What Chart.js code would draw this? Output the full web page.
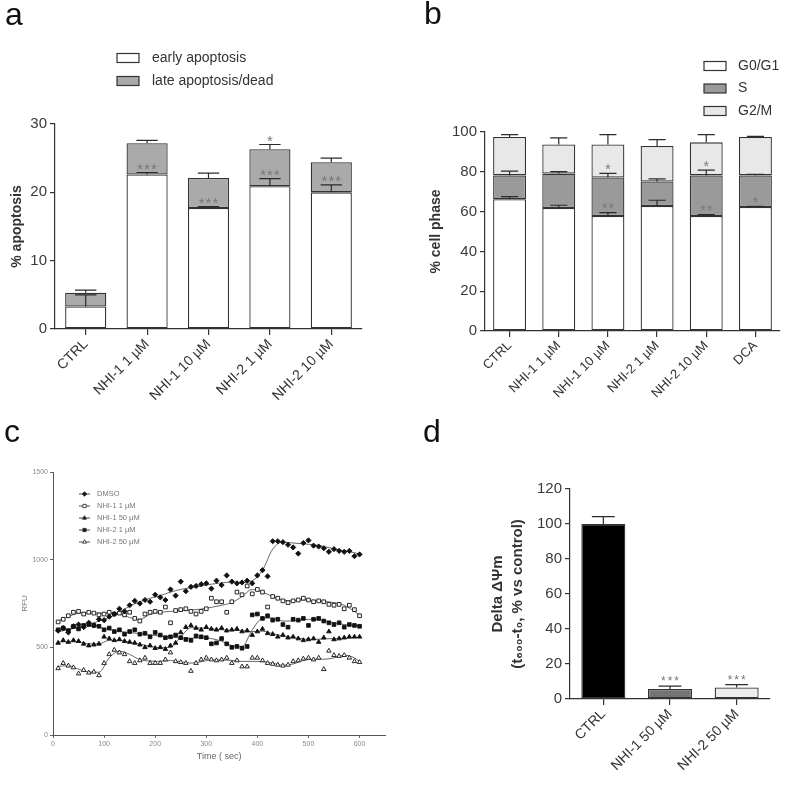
<!DOCTYPE html>
<html>
<head>
<meta charset="utf-8">
<script src="https://cdn.jsdelivr.net/npm/chart.js@4.4.0/dist/chart.umd.min.js"></script>
<style>
html, body { margin: 0; padding: 0; background: #fff; }
#wrap { position: relative; width: 787px; height: 787px; overflow: hidden; background: #fff; }
#wrap canvas { position: absolute; }
.tag { position: absolute; font: 32px "Liberation Sans", Arial, sans-serif; color: #111; line-height: 1; }
</style>
</head>
<body>
<div id="wrap">
  <canvas id="ca" style="left:0;top:0" width="390" height="420"></canvas>
  <canvas id="cb" style="left:390px;top:0" width="397" height="420"></canvas>
  <canvas id="cc" style="left:0;top:420px" width="390" height="367"></canvas>
  <canvas id="cd" style="left:390px;top:420px" width="397" height="367"></canvas>
  <div class="tag" style="left:5px;top:-2px">a</div>
  <div class="tag" style="left:424px;top:-3px">b</div>
  <div class="tag" style="left:4px;top:415px">c</div>
  <div class="tag" style="left:423px;top:415px">d</div>
</div>
<script>
"use strict";

var FONT = '"Liberation Sans", Arial, sans-serif';

// ---- panel a : apoptosis ----
var aLabels = [ "CTRL", "NHI-1 1 µM", "NHI-1 10 µM", "NHI-2 1 µM", "NHI-2 10 µM" ];
var aEarly = [ 3.3, 22.6, 17.7, 20.9, 20.0 ];
var aLate = [ 2.0, 4.6, 4.4, 5.4, 4.4 ];
var aEarlyErr = [ 1.7, 0.3, 0.2, 1.1, 1.1 ];
var aLateErr = [ 0.4, 0.4, 0.7, 0.7, 0.6 ];
var aStarsLate = [ "", "***", "***", "***", "***" ];
var aStarsTop = [ "", "", "", "*", "" ];
var aTicks = [ 0, 10, 20, 30 ];

// ---- panel b : cell cycle ----
var bLabels = [ "CTRL", "NHI-1 1 µM", "NHI-1 10 µM", "NHI-2 1 µM", "NHI-2 10 µM", "DCA" ];
var bG0 = [ 66.2, 61.8, 57.8, 62.8, 57.8, 62.3 ];
var bS = [ 12.0, 17.3, 19.3, 12.3, 20.4, 15.9 ];
var bG2 = [ 19.3, 14.6, 16.6, 17.9, 16.6, 19.3 ];
var bG0Err = [ 1.3, 1.4, 1.7, 2.9, 0.7, 0.3 ];
var bSErr = [ 2.1, 1.0, 2.1, 1.3, 2.6, 0.5 ];
var bG2Err = [ 1.2, 3.3, 5.0, 3.2, 3.9, 0.3 ];
var bStarsS = [ "", "", "**", "", "**", "*" ];
var bStarsG2 = [ "", "", "*", "", "*", "" ];
var bTicks = [ 0, 20, 40, 60, 80, 100 ];

// ---- panel c : RFU time course ----
var cTime = [ 10, 20, 30, 40, 50, 60, 70, 80, 90, 100,
              110, 120, 130, 140, 150, 160, 170, 180, 190, 200,
              210, 220, 230, 240, 250, 260, 270, 280, 290, 300,
              310, 320, 330, 340, 350, 360, 370, 380, 390, 400,
              410, 420, 430, 440, 450, 460, 470, 480, 490, 500,
              510, 520, 530, 540, 550, 560, 570, 580, 590, 600 ];
var cDmso = [ 595, 610, 585, 620, 630, 615, 640, 625, 660, 655,
              675, 690, 720, 705, 740, 765, 750, 770, 760, 800,
              785, 770, 830, 795, 875, 820, 845, 850, 860, 865,
              835, 880, 855, 910, 875, 865, 870, 880, 865, 910,
              940, 905, 1105, 1105, 1100, 1085, 1070, 1035, 1095, 1110,
              1080, 1075, 1065, 1045, 1060, 1050, 1045, 1050, 1020, 1030 ];
var cNhi1Low = [ 645, 660, 680, 700, 705, 690, 700, 695, 685, 690,
                 700, 690, 695, 685, 700, 665, 650, 690, 700, 705,
                 700, 730, 640, 710, 715, 720, 705, 690, 705, 720,
                 780, 760, 760, 700, 760, 815, 800, 850, 805, 830,
                 815, 730, 790, 780, 765, 755, 765, 770, 780, 770,
                 760, 765, 760, 745, 740, 745, 720, 740, 715, 680 ];
var cNhi1High = [ 525, 540, 530, 540, 535, 520, 510, 515, 520, 560,
                  550, 540, 545, 535, 530, 525, 515, 500, 510, 495,
                  500, 490, 510, 525, 585, 615, 625, 610, 600, 615,
                  605, 600, 610, 595, 600, 605, 590, 595, 570, 590,
                  605, 580, 575, 560, 570, 555, 560, 550, 540, 545,
                  550, 530, 555, 590, 545, 550, 555, 560, 560, 560 ];
var cNhi2Low = [ 600, 610, 595, 620, 605, 625, 630, 625, 620, 600,
                 610, 590, 600, 575, 590, 600, 575, 580, 560, 585,
                 570, 555, 560, 570, 555, 545, 540, 565, 560, 555,
                 520, 525, 550, 520, 500, 505, 495, 505, 685, 690,
                 665, 680, 655, 660, 630, 615, 660, 655, 665, 625,
                 660, 665, 650, 640, 630, 640, 615, 630, 625, 620 ];
var cNhi2High = [ 380, 410, 395, 385, 350, 370, 355, 360, 340, 410,
                  460, 485, 470, 460, 420, 410, 425, 440, 410, 410,
                  410, 430, 470, 420, 415, 410, 365, 410, 430, 440,
                  430, 425, 430, 440, 410, 425, 390, 390, 440, 440,
                  425, 410, 405, 400, 395, 400, 420, 425, 435, 440,
                  430, 440, 375, 480, 455, 450, 455, 440, 420, 415 ];
// smoothed curves, read at 20 s knots
var cTrendTime = [ 10, 30, 50, 70, 90, 110, 130, 150, 170, 190, 210, 230, 250, 270, 290,
                   310, 330, 350, 370, 390, 410, 430, 450, 470, 490, 510, 530, 550, 570, 590, 600 ];
var cDmsoTrend = [ 590, 600, 615, 630, 650, 670, 700, 735, 760, 780, 795, 815, 830, 840, 850,
                   860, 868, 872, 870, 880, 940, 1060, 1100, 1095, 1090, 1085, 1075, 1062, 1050, 1040, 1032 ];
var cNhi1LowTrend = [ 650, 675, 695, 698, 695, 697, 690, 670, 660, 688, 700, 705, 710, 712, 718,
                      728, 740, 755, 790, 830, 815, 790, 770, 765, 770, 768, 762, 755, 740, 705, 685 ];
var cNhi1HighTrend = [ 530, 533, 532, 520, 520, 540, 540, 530, 518, 505, 498, 500, 560, 612, 610,
                       605, 600, 598, 595, 590, 592, 578, 565, 555, 548, 545, 548, 550, 552, 556, 558 ];
var cNhi2LowTrend = [ 600, 605, 615, 625, 615, 600, 590, 585, 578, 570, 565, 558, 553, 552, 555,
                      550, 535, 510, 505, 600, 665, 668, 650, 650, 658, 660, 652, 640, 630, 625, 622 ];
var cNhi2HighTrend = [ 392, 395, 375, 360, 358, 440, 478, 460, 430, 422, 420, 425, 418, 410, 418,
                       428, 428, 425, 420, 420, 418, 410, 398, 405, 425, 432, 432, 440, 455, 440, 420 ];
var cXTicks = [ 0, 100, 200, 300, 400, 500, 600 ];
var cYTicks = [ 0, 500, 1000, 1500 ];

// ---- panel d : delta potential ----
var dLabels = [ "CTRL", "NHI-1 50 µM", "NHI-2 50 µM" ];
var dValues = [ 100, 5.7, 6.6 ];
var dErr = [ 4.2, 1.7, 1.6 ];
var dStars = [ "", "***", "***" ];
var dTicks = [ 0, 20, 40, 60, 80, 100, 120 ];

Chart.defaults.font.family = FONT;
Chart.defaults.color = "#333";

function fixTicks(list) {
    return function (scale) {
        scale.ticks = list.map(function (v) { return { value: v }; });
    };
}

function plain(v) { return String(v); }

function stackTop(chart, ds, j) {
    var top = 0;
    for (var k = 0; k <= ds; k++) top += chart.data.datasets[k].data[j];
    return top;
}

// error bars, significance stars and box legend for the bar panels
function barExtras(errs, stars, legend) {
    return {
        id: "barExtras",
        afterDatasetsDraw: function (chart) {
            var ctx = chart.ctx, ys = chart.scales.y;
            ctx.save();
            ctx.strokeStyle = "#2b2b2b";
            ctx.lineWidth = 1.2;
            errs.forEach(function (err, i) {
                chart.getDatasetMeta(i).data.forEach(function (bar, j) {
                    var top = stackTop(chart, i, j);
                    var y0 = ys.getPixelForValue(top);
                    var y1 = ys.getPixelForValue(top + err[j]);
                    var h = bar.width * 0.26;
                    ctx.beginPath();
                    ctx.moveTo(bar.x, y0);
                    ctx.lineTo(bar.x, y1);
                    ctx.moveTo(bar.x - h, y1);
                    ctx.lineTo(bar.x + h, y1);
                    ctx.stroke();
                });
            });
            stars.forEach(function (s) {
                ctx.font = s.size + "px " + FONT;
                ctx.fillStyle = "#777";
                ctx.textAlign = "center";
                ctx.textBaseline = "alphabetic";
                ctx.letterSpacing = s.gap + "px";
                s.text.forEach(function (t, j) {
                    if (!t) return;
                    var bar = chart.getDatasetMeta(s.over).data[j];
                    var yc = ys.getPixelForValue(stackTop(chart, s.over, j) + errs[s.over][j]) - 8;
                    ctx.fillText(t, bar.x + s.gap / 2, yc + s.size * 0.6);
                });
            });
            ctx.restore();
        },
        afterDraw: function (chart) {
            if (!legend) return;
            var ctx = chart.ctx;
            ctx.save();
            ctx.font = legend.size + "px " + FONT;
            ctx.textBaseline = "middle";
            ctx.textAlign = "left";
            chart.data.datasets.forEach(function (ds, i) {
                var yc = legend.y + i * legend.dy;
                ctx.fillStyle = ds.backgroundColor;
                ctx.strokeStyle = "#333";
                ctx.lineWidth = 1.2;
                ctx.fillRect(legend.x, yc - legend.bh / 2, legend.bw, legend.bh);
                ctx.strokeRect(legend.x, yc - legend.bh / 2, legend.bw, legend.bh);
                ctx.fillStyle = "#333";
                ctx.fillText(ds.label, legend.tx, yc);
            });
            ctx.restore();
        }
    };
}

function barScales(opts) {
    return {
        x: {
            stacked: true,
            grid: { display: true, drawOnChartArea: false, offset: false, tickLength: 6, color: "#333", lineWidth: 1.2 },
            border: { color: "#333", width: 1.2 },
            ticks: { minRotation: 45, maxRotation: 45, color: "#333", font: { size: opts.xSize }, padding: 1 },
            afterFit: function (s) { s.height = opts.xHeight; }
        },
        y: {
            stacked: true,
            min: 0,
            max: opts.max,
            afterBuildTicks: fixTicks(opts.ticks),
            grid: { display: true, drawOnChartArea: false, tickLength: 5, color: "#333", lineWidth: 1.2 },
            border: { color: "#333", width: 1.2 },
            ticks: { color: "#3a3a3a", font: { size: 15 }, padding: 3 },
            title: { display: true, text: opts.title, color: "#333", font: opts.titleFont, padding: { top: 0, bottom: 0 } },
            afterFit: function (s) { s.width = opts.yWidth; }
        }
    };
}

var Dashboard = function () {
    var segment = function (label, data, colour) {
        return { label: label, data: data, backgroundColor: colour, borderColor: "#333", borderWidth: 1.3, borderSkipped: false };
    };

    new Chart(document.getElementById("ca"), {
        type   : "bar",
        data   : {
            labels  : aLabels,
            datasets: [ segment("early apoptosis", aEarly, "#ffffff"),
                        segment("late apoptosis/dead", aLate, "#aaaaaa") ]
        },
        options: {
            responsive: false,
            animation : false,
            layout    : { padding: { left: 9, right: 28, top: 124, bottom: 0 } },
            datasets  : { bar: { barPercentage: 0.67, categoryPercentage: 1 } },
            plugins   : { legend: { display: false }, tooltip: { enabled: false } },
            scales    : barScales({ max: 30, ticks: aTicks, title: "% apoptosis", titleFont: { size: 14, weight: "bold" },
                                    xSize: 14, xHeight: 91, yWidth: 46 })
        },
        plugins: [ barExtras([ aEarlyErr, aLateErr ],
                             [ { text: aStarsLate, over: 0, size: 15, gap: 1 }, { text: aStarsTop, over: 1, size: 15, gap: 1 } ],
                             { x: 117, y: 58, dy: 23, bw: 22, bh: 9, tx: 152, size: 14 }) ]
    });

    new Chart(document.getElementById("cb"), {
        type   : "bar",
        data   : {
            labels  : bLabels,
            datasets: [ segment("G0/G1", bG0, "#ffffff"),
                        segment("S", bS, "#9a9a9a"),
                        segment("G2/M", bG2, "#e8e8e8") ]
        },
        options: {
            responsive: false,
            animation : false,
            layout    : { padding: { left: 38, right: 7, top: 132, bottom: 0 } },
            datasets  : { bar: { barPercentage: 0.67, categoryPercentage: 1 } },
            plugins   : { legend: { display: false }, tooltip: { enabled: false } },
            scales    : barScales({ max: 100, ticks: bTicks, title: "% cell phase", titleFont: { size: 14, weight: "bold" },
                                    xSize: 13, xHeight: 89, yWidth: 57 })
        },
        plugins: [ barExtras([ bG0Err, bSErr, bG2Err ],
                             [ { text: bStarsS, over: 0, size: 14, gap: 1 }, { text: bStarsG2, over: 1, size: 14, gap: 1 } ],
                             { x: 314, y: 66, dy: 22.5, bw: 22, bh: 9, tx: 348, size: 14 }) ]
    });

    var series = function (label, ys, style, fill) {
        return {
            label: label,
            data: cTime.map(function (t, i) { return { x: t, y: ys[i] }; }),
            pointStyle: style,
            pointRadius: 2.6,
            pointBorderWidth: 0.9,
            pointBackgroundColor: fill,
            pointBorderColor: "#111",
            showLine: false
        };
    };
    var trend = function (ys) {
        return {
            label: "",
            data: cTrendTime.map(function (t, i) { return { x: t, y: ys[i] }; }),
            showLine: true,
            pointRadius: 0,
            borderColor: "#555",
            borderWidth: 0.9,
            cubicInterpolationMode: "monotone"
        };
    };

    new Chart(document.getElementById("cc"), {
        type   : "scatter",
        data   : {
            datasets: [ series("DMSO", cDmso, "rectRot", "#111"),
                        series("NHI-1 1 µM", cNhi1Low, "rect", "#fff"),
                        series("NHI-1 50 µM", cNhi1High, "triangle", "#111"),
                        series("NHI-2 1 µM", cNhi2Low, "rect", "#111"),
                        series("NHI-2 50 µM", cNhi2High, "triangle", "#fff"),
                        trend(cDmsoTrend), trend(cNhi1LowTrend), trend(cNhi1HighTrend),
                        trend(cNhi2LowTrend), trend(cNhi2HighTrend) ]
        },
        options: {
            responsive: false,
            animation : false,
            layout    : { padding: { left: 20, right: 3, top: 52, bottom: 0 } },
            plugins   : { legend: { display: false }, tooltip: { enabled: false } },
            scales    : {
                x: {
                    type: "linear", min: 0, max: 650,
                    afterBuildTicks: fixTicks(cXTicks),
                    grid: { display: true, drawOnChartArea: false, tickLength: 3, color: "#666" },
                    border: { color: "#555", width: 1 },
                    ticks: { color: "#888", font: { size: 7 }, padding: 2, callback: plain },
                    title: { display: true, text: "Time ( sec)", color: "#666", font: { size: 9 }, padding: { top: 0, bottom: 25 } },
                    afterFit: function (s) { s.height = 52; }
                },
                y: {
                    min: 0, max: 1500,
                    afterBuildTicks: fixTicks(cYTicks),
                    grid: { display: true, drawOnChartArea: false, tickLength: 3, color: "#666" },
                    border: { color: "#555", width: 1 },
                    ticks: { color: "#888", font: { size: 7 }, padding: 2, callback: plain },
                    title: { display: true, text: "RFU", color: "#777", font: { size: 8 }, padding: { top: 0, bottom: 0 } },
                    afterFit: function (s) { s.width = 33; }
                }
            }
        },
        plugins: [ {
            id: "lineLegend",
            afterDraw: function (chart) {
                var ctx = chart.ctx;
                ctx.save();
                ctx.font = "7.5px " + FONT;
                ctx.textBaseline = "middle";
                chart.data.datasets.slice(0, 5).forEach(function (ds, i) {
                    var yc = 74 + i * 12;
                    ctx.strokeStyle = "#333";
                    ctx.lineWidth = 0.9;
                    ctx.beginPath();
                    ctx.moveTo(79, yc);
                    ctx.lineTo(90, yc);
                    ctx.stroke();
                    ctx.fillStyle = ds.pointBackgroundColor;
                    Chart.helpers.drawPoint(ctx, { pointStyle: ds.pointStyle, radius: 2.3, borderWidth: 0.9 }, 84.5, yc);
                    ctx.fillStyle = "#777";
                    ctx.fillText(ds.label, 97, yc);
                });
                ctx.restore();
            }
        } ]
    });

    new Chart(document.getElementById("cd"), {
        type   : "bar",
        data   : {
            labels  : dLabels,
            datasets: [ { label: "delta", data: dValues, backgroundColor: [ "#000000", "#737373", "#ececec" ],
                          borderColor: "#333", borderWidth: 1.3, borderSkipped: false } ]
        },
        options: {
            responsive: false,
            animation : false,
            layout    : { padding: { left: 98, right: 17, top: 69, bottom: 0 } },
            datasets  : { bar: { barPercentage: 0.66, categoryPercentage: 1 } },
            plugins   : { legend: { display: false }, tooltip: { enabled: false } },
            scales    : barScales({ max: 120, ticks: dTicks, title: [ "Delta ΔΨm", "(t₆₀₀-t₀, % vs control)" ],
                                    titleFont: { size: 15, weight: "bold", lineHeight: 1.33 },
                                    xSize: 14, xHeight: 88, yWidth: 82 })
        },
        plugins: [ barExtras([ dErr ], [ { text: dStars, over: 0, size: 12, gap: 2 } ], null) ]
    });
};

Dashboard();
</script>
</body>
</html>
